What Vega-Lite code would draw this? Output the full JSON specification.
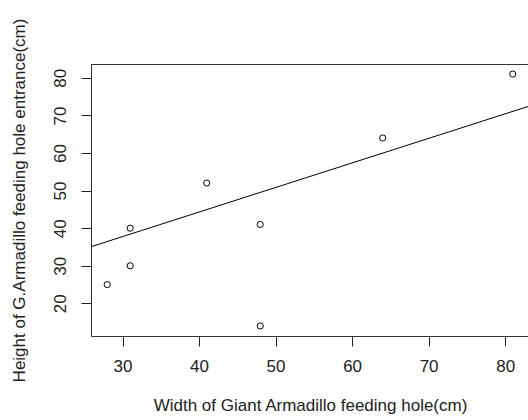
{
  "$schema": "https://vega.github.io/schema/vega-lite/v6.json",
  "width": 438,
  "height": 272,
  "autosize": {"type": "none"},
  "padding": {"left": 91, "top": 64, "right": 0, "bottom": 84},
  "background": "white",
  "config": {
    "view": {"stroke": "#333", "strokeWidth": 1},
    "font": "Liberation Sans",
    "axis": {
      "domain": false,
      "grid": false,
      "tickColor": "#222",
      "tickSize": 10,
      "labelFont": "Liberation Sans",
      "labelFontSize": 17,
      "labelColor": "#222",
      "titleFont": "Liberation Sans",
      "titleFontSize": 17,
      "titleFontWeight": "normal",
      "titleColor": "#222"
    }
  },
  "datasets": {
    "points": [
      {"width": 28, "height": 25},
      {"width": 31, "height": 30},
      {"width": 31, "height": 40},
      {"width": 41, "height": 52},
      {"width": 48, "height": 41},
      {"width": 48, "height": 14},
      {"width": 64, "height": 64},
      {"width": 81, "height": 81}
    ],
    "fit": [
      {"width": 25.88, "height": 35.07},
      {"width": 83.12, "height": 72.46}
    ]
  },
  "layer": [
    {
      "data": {"name": "points"},
      "mark": {"type": "point", "shape": "circle", "filled": false, "size": 38, "stroke": "black", "strokeWidth": 1, "opacity": 1},
      "encoding": {
        "x": {
          "field": "width", "type": "quantitative",
          "scale": {"domain": [25.88, 83.12], "nice": false, "zero": false},
          "axis": {"values": [30, 40, 50, 60, 70, 80], "title": "Width of Giant Armadillo feeding hole(cm)", "labelPadding": 12, "titlePadding": 23}
        },
        "y": {
          "field": "height", "type": "quantitative",
          "scale": {"domain": [11.32, 83.68], "nice": false, "zero": false},
          "axis": {"values": [20, 30, 40, 50, 60, 70, 80], "title": "Height of G.Armadillo feeding hole entrance(cm)", "labelAngle": 270, "labelAlign": "center", "labelBaseline": "alphabetic", "labelPadding": 16, "titlePadding": 23}
        }
      }
    },
    {
      "data": {"name": "fit"},
      "mark": {"type": "line", "color": "black", "strokeWidth": 1, "clip": true},
      "encoding": {
        "x": {"field": "width", "type": "quantitative"},
        "y": {"field": "height", "type": "quantitative"}
      }
    }
  ]
}
